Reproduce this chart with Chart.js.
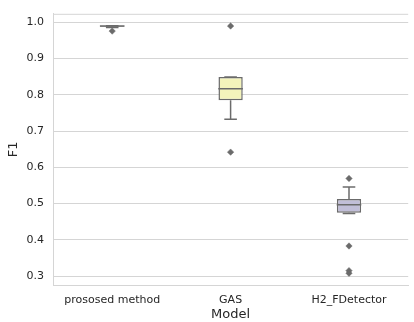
<!DOCTYPE html>
<html>
<head>
<meta charset="utf-8">
<script src="https://cdn.jsdelivr.net/npm/chart.js@4.4.0/dist/chart.umd.min.js"></script>
<style>
html, body { margin: 0; padding: 0; overflow: hidden; background: #fff; }
#wrap { width: 422px; height: 322px; }
</style>
</head>
<body>
<div id="wrap"><canvas id="mycanvas"></canvas></div>
<script>
// box plot values
var models = ['prososed method', 'GAS', 'H2_FDetector'];
var q1 = [0.988, 0.785, 0.4746];
var median = [0.990, 0.817, 0.497];
var q3 = [0.991, 0.849, 0.5126];
var whiskerLow = [0.986, 0.733, 0.473];
var whiskerHigh = [0.991, 0.849, 0.5456];
var outliers = [[0.976], [0.990, 0.642], [0.5694, 0.383, 0.315, 0.308]];
var yTicks = [0.3, 0.4, 0.5, 0.6, 0.7, 0.8, 0.9, 1.0];

var boxColors = ['#96c9c0', '#f4f4bb', '#c1bed8'];
var lineGray = '#6b6b6b';
var gridGray = '#d5d5d5';
var textColor = '#262626';

Chart.defaults.font.family = 'DejaVu Sans';
Chart.defaults.color = textColor;

// whisker segments, broken by nulls
var whiskerPts = [];
for (var i = 0; i < models.length; i++) {
	whiskerPts.push({ x: models[i], y: q3[i] });
	whiskerPts.push({ x: models[i], y: whiskerHigh[i] });
	whiskerPts.push({ x: models[i], y: null });
	whiskerPts.push({ x: models[i], y: q1[i] });
	whiskerPts.push({ x: models[i], y: whiskerLow[i] });
	whiskerPts.push({ x: models[i], y: null });
}

var outlierPts = [];
for (var i = 0; i < models.length; i++) {
	for (var j = 0; j < outliers[i].length; j++) {
		outlierPts.push({ x: models[i], y: outliers[i][j] });
	}
}

var topSpine = {
	id: 'topSpine',
	beforeDatasetsDraw: function (chart) {
		var a = chart.chartArea, ctx = chart.ctx;
		ctx.save();
		ctx.strokeStyle = gridGray;
		ctx.lineWidth = 1;
		ctx.beginPath();
		ctx.moveTo(a.left, a.top + 0.5);
		ctx.lineTo(a.right, a.top + 0.5);
		ctx.stroke();
		ctx.restore();
	}
};

var ctx = document.getElementById('mycanvas');

var boxChart = new Chart(ctx, {
	type: 'bar',
	data: {
		labels: models,
		datasets: [
			{
				type: 'line',
				data: whiskerPts,
				borderColor: lineGray,
				borderWidth: 1.5,
				pointRadius: 0,
				spanGaps: false,
				order: 5
			},
			{
				type: 'bar',
				data: models.map(function (m, i) { return [q1[i], q3[i]]; }),
				backgroundColor: boxColors,
				borderColor: lineGray,
				borderWidth: 1.5,
				borderSkipped: false,
				categoryPercentage: 1,
				barPercentage: 0.205,
				order: 4
			},
			{
				type: 'line',
				data: median,
				showLine: false,
				pointStyle: 'line',
				pointRadius: 12.3,
				pointBorderColor: lineGray,
				pointBorderWidth: 1.5,
				order: 3
			},
			{
				type: 'line',
				data: whiskerHigh,
				showLine: false,
				pointStyle: 'line',
				pointRadius: 6.3,
				pointBorderColor: lineGray,
				pointBorderWidth: 1.5,
				order: 3
			},
			{
				type: 'line',
				data: whiskerLow,
				showLine: false,
				pointStyle: 'line',
				pointRadius: 6.3,
				pointBorderColor: lineGray,
				pointBorderWidth: 1.5,
				order: 3
			},
			{
				type: 'line',
				data: outlierPts,
				showLine: false,
				pointStyle: 'rectRot',
				pointRadius: 3.2,
				pointBackgroundColor: lineGray,
				pointBorderColor: lineGray,
				pointBorderWidth: 0.5,
				order: 1
			}
		]
	},
	options: {
		responsive: true,
		maintainAspectRatio: false,
		animation: false,
		events: [],
		layout: { padding: { top: 12, right: 1, left: 0, bottom: 0 } },
		plugins: {
			legend: { display: false },
			tooltip: { enabled: false }
		},
		scales: {
			x: {
				type: 'category',
				offset: true,
				grid: { display: false, drawTicks: false, tickLength: 0 },
				border: { display: true, color: gridGray, width: 1 },
				ticks: { color: textColor, font: { size: 11 }, padding: 9, maxRotation: 0 },
				title: { display: true, text: 'Model', color: textColor, font: { size: 13, lineHeight: 1 }, padding: { top: 0, bottom: 1 } },
				afterFit: function (s) { s.height = 37; }
			},
			y: {
				min: 0.2754,
				max: 1.0237,
				afterBuildTicks: function (s) { s.ticks = yTicks.map(function (v) { return { value: v }; }); },
				grid: { color: gridGray, drawTicks: false },
				border: { display: true, color: gridGray, width: 1 },
				ticks: { color: textColor, font: { size: 11 }, padding: 9, callback: function (v) { return v.toFixed(1); } },
				title: { display: true, text: 'F1', color: textColor, font: { size: 13, lineHeight: 1 }, padding: { top: 7, bottom: 0 } },
				afterFit: function (s) {
					s.width = 53;
					s.paddingTop = 0;
					s.paddingBottom = 0;
				}
			}
		}
	},
	plugins: [topSpine]
});
</script>
</body>
</html>
